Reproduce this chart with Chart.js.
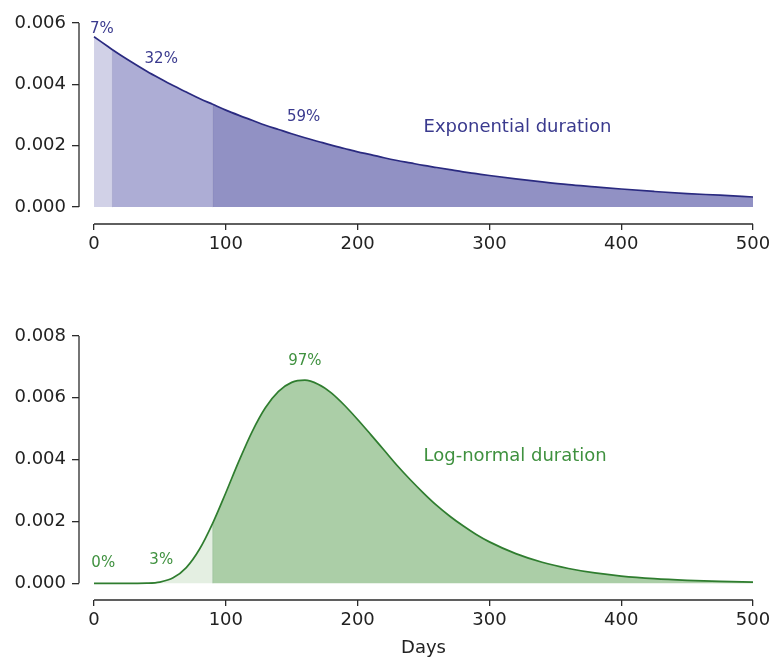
<!DOCTYPE html>
<html>
<head>
<meta charset="utf-8">
<script src="https://cdn.jsdelivr.net/npm/chart.js@4"></script>
<style>
  html, body { margin: 0; background: #fff; }
  #wrap { position: relative; width: 772px; height: 658px; }
  canvas { position: absolute; left: 0; }
</style>
</head>
<body>
<div id="wrap">
  <canvas id="expChart" width="772" height="300" style="top:0"></canvas>
  <canvas id="logChart" width="772" height="358" style="top:300px"></canvas>
</div>
<script>
// values
const days = [0, 5, 10, 14, 20, 30, 40, 50, 60, 70, 80, 90, 100, 110, 120, 130, 140, 150, 160, 170,
  180, 190, 200, 210, 220, 230, 240, 250, 260, 270, 280, 290, 300, 320, 340, 360, 380, 400, 425, 450, 475, 500];
const expDensity = [0.00555, 0.00540, 0.00525, 0.00513, 0.00496, 0.00469, 0.00443, 0.00419, 0.00396, 0.00375,
  0.00354, 0.00335, 0.00316, 0.00299, 0.00283, 0.00267, 0.00253, 0.00239, 0.00226, 0.00214,
  0.00202, 0.00191, 0.00180, 0.00171, 0.00161, 0.00152, 0.00144, 0.00136, 0.00129, 0.00122,
  0.00115, 0.00109, 0.00103, 0.00092, 0.00082, 0.00073, 0.00066, 0.00059, 0.00051, 0.00044, 0.00039, 0.00033];
const logDensity = [0, 0, 0, 0, 0, 0, 0.000005, 0.00004, 0.000176, 0.000508,
  0.0011, 0.00194, 0.00293, 0.00396, 0.00491, 0.00568, 0.00621, 0.0065, 0.00657, 0.00644,
  0.00616, 0.00576, 0.0053, 0.00481, 0.00431, 0.00381, 0.00335, 0.00292, 0.00252, 0.00217,
  0.00186, 0.00158, 0.00134, 0.00096, 0.00068, 0.00048, 0.000336, 0.000235, 0.00015, 0.000096, 0.000061, 0.000039];
const cutDays = [14, 90];
const xTicks = [0, 100, 200, 300, 400, 500];
const expYTicks = [0, 0.002, 0.004, 0.006];
const logYTicks = [0, 0.002, 0.004, 0.006, 0.008];
const expShares = ['7%', '32%', '59%'];
const logShares = ['0%', '3%', '97%'];
const expName = 'Exponential duration';
const logName = 'Log-normal duration';
const xTitle = 'Days';

const FONT = '"DejaVu Sans", "Liberation Sans", sans-serif';
const AXIS = '#2b2b2b';

// spines drawn only between first and last tick, like offset matplotlib axes
const spines = {
  id: 'spines',
  afterDraw(chart, args, opts) {
    const { ctx, chartArea, scales: { x, y } } = chart;
    ctx.save();
    ctx.strokeStyle = AXIS;
    ctx.lineWidth = 1.3;
    ctx.beginPath();
    ctx.moveTo(chartArea.left, y.getPixelForValue(opts.yTicks[0]));
    ctx.lineTo(chartArea.left, y.getPixelForValue(opts.yTicks[opts.yTicks.length - 1]));
    ctx.moveTo(x.getPixelForValue(xTicks[0]), chartArea.bottom);
    ctx.lineTo(x.getPixelForValue(xTicks[xTicks.length - 1]), chartArea.bottom);
    ctx.stroke();
    if (opts.title) {
      ctx.fillStyle = '#222';
      ctx.font = '18px ' + FONT;
      ctx.textAlign = 'center';
      ctx.textBaseline = 'middle';
      const cx = (x.getPixelForValue(xTicks[0]) + x.getPixelForValue(xTicks[xTicks.length - 1])) / 2;
      ctx.fillText(opts.title, cx, chartArea.bottom + 48);
    }
    ctx.restore();
  }
};

// thin edges between the shaded parts
const dividers = {
  id: 'dividers',
  afterDatasetsDraw(chart, args, opts) {
    const { ctx, scales: { x, y } } = chart;
    ctx.save();
    ctx.strokeStyle = opts.color;
    ctx.lineWidth = 1;
    cutDays.forEach(d => {
      const v = opts.values[days.indexOf(d)];
      const px = x.getPixelForValue(d);
      ctx.beginPath();
      ctx.moveTo(px, y.getPixelForValue(0));
      ctx.lineTo(px, y.getPixelForValue(v));
      ctx.stroke();
    });
    ctx.restore();
  }
};

const notes = {
  id: 'notes',
  afterDraw(chart, args, opts) {
    const { ctx, scales: { x, y } } = chart;
    ctx.save();
    ctx.fillStyle = opts.color;
    ctx.textBaseline = 'middle';
    opts.items.forEach(n => {
      ctx.font = n.size + 'px ' + FONT;
      ctx.textAlign = n.align || 'center';
      ctx.fillText(n.text, x.getPixelForValue(n.x), y.getPixelForValue(n.y));
    });
    ctx.restore();
  }
};

function part(values, from, to) {
  return days.map((d, i) => ({ x: d, y: values[i] })).filter(p => p.x >= from && p.x <= to);
}

function drawChart(id, values, c) {
  const bounds = [xTicks[0], ...cutDays, xTicks[xTicks.length - 1]];
  const fills = c.fills.map((col, i) => ({
    data: part(values, bounds[i], bounds[i + 1]),
    backgroundColor: col,
    borderWidth: 0,
    fill: 'origin'
  }));
  const line = {
    data: part(values, bounds[0], bounds[bounds.length - 1]),
    borderColor: c.line,
    borderWidth: 1.7,
    fill: false
  };
  return new Chart(document.getElementById(id), {
    type: 'line',
    data: { datasets: [line, ...fills] },
    options: {
      responsive: false,
      animation: false,
      events: [],
      layout: { padding: { top: c.top, right: 19, left: 0, bottom: 0 } },
      elements: { point: { radius: 0 }, line: { cubicInterpolationMode: 'monotone' } },
      plugins: {
        legend: { display: false },
        tooltip: { enabled: false },
        spines: { yTicks: c.yTicks, title: c.title },
        dividers: { color: c.edge, values: values },
        notes: { color: c.text, items: c.notes }
      },
      scales: {
        x: {
          type: 'linear',
          min: -11.4,
          max: 500,
          afterBuildTicks: s => { s.ticks = xTicks.map(v => ({ value: v })); },
          afterFit: s => { s.height = c.xh; s.paddingLeft = 0; s.paddingRight = 0; },
          border: { display: false },
          grid: { drawOnChartArea: false, tickLength: 6, color: AXIS, lineWidth: 1.3 },
          ticks: { font: { family: FONT, size: 18 }, color: '#222', padding: 4, maxRotation: 0, autoSkip: false,
            callback: v => String(v) }
        },
        y: {
          min: c.yMin,
          max: c.yTicks[c.yTicks.length - 1],
          afterBuildTicks: s => { s.ticks = c.yTicks.map(v => ({ value: v })); },
          afterFit: s => { s.width = 79; s.paddingTop = 0; s.paddingBottom = 0; },
          border: { display: false },
          grid: { drawOnChartArea: false, tickLength: 7, color: AXIS, lineWidth: 1.3 },
          ticks: { font: { family: FONT, size: 18 }, color: '#222', padding: 6,
            callback: v => v.toFixed(3) }
        }
      }
    },
    plugins: [spines, dividers, notes]
  });
}

drawChart('expChart', expDensity, {
  top: 23, xh: 76, yMin: -0.00055, yTicks: expYTicks,
  line: '#2a2a80', text: '#3a3a8e', edge: 'rgba(70, 70, 150, 0.35)',
  fills: ['#d1d1e7', '#adadd5', '#9191c4'],
  notes: [
    { text: expShares[0], x: 6, y: 0.0058, size: 15 },
    { text: expShares[1], x: 51, y: 0.00483, size: 15 },
    { text: expShares[2], x: 159, y: 0.00294, size: 15 },
    { text: expName, x: 250, y: 0.0026, size: 18, align: 'left' }
  ]
});

drawChart('logChart', logDensity, {
  top: 36, xh: 58, yMin: -0.00054, yTicks: logYTicks, title: xTitle,
  line: '#2f7d2f', text: '#3f913f', edge: 'rgba(60, 130, 60, 0.3)',
  fills: ['#e4efe2', '#e4efe2', '#abcea7'],
  notes: [
    { text: logShares[0], x: 7, y: 0.00065, size: 15 },
    { text: logShares[1], x: 51, y: 0.00075, size: 15 },
    { text: logShares[2], x: 160, y: 0.0072, size: 15 },
    { text: logName, x: 250, y: 0.0041, size: 18, align: 'left' }
  ]
});
</script>
</body>
</html>
